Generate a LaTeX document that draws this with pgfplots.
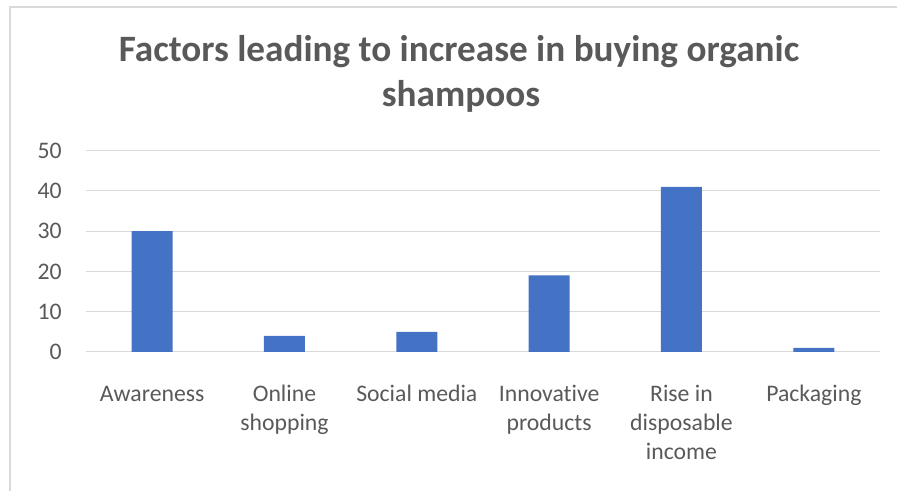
\documentclass[border=0pt]{standalone}
\usepackage{fontspec}
\setmainfont[Ligatures=NoCommon]{Carlito}
\usepackage{pgfplots}
\pgfplotsset{compat=1.18}
\definecolor{barblue}{HTML}{4472C4}
\definecolor{txtgray}{HTML}{595959}
\definecolor{gridgray}{HTML}{D9D9D9}
% category label: lines centred, baseline on the first line
\newcommand{\lbl}[1]{\begin{tabular}[t]{@{}c@{}}#1\end{tabular}}

\begin{document}
\begin{tikzpicture}[x=0.75pt,y=0.75pt]
% page = 897 x 491 px, 1 px = 0.75pt
\path[use as bounding box] (0,0) rectangle (897,491);
% chart area frame (only left and top edges visible)
\draw[gridgray, line width=1.5pt] (10,-5) -- (10,484) -- (905,484);

% title
\node[anchor=base, text=txtgray, font=\fontsize{27.9pt}{34pt}\selectfont\bfseries]
  at (459,429) {Factors leading to increase in buying organic};
\node[anchor=base, text=txtgray, font=\fontsize{27.9pt}{34pt}\selectfont\bfseries]
  at (461,384) {shampoos};

\begin{axis}[
  at={(64.5pt,104.25pt)}, anchor=south west,
  scale only axis, width=595.5pt, height=151pt,
  ybar, bar width=30.75pt,
  xmin=-0.5, xmax=5.5, ymin=0, ymax=50,
  ytick={0,10,...,50},
  xtick=data,
  xticklabels={{\lbl{Awareness}}, {\lbl{Online\\shopping}}, {\lbl{Social media}},
    {\lbl{Innovative\\products}}, {\lbl{Rise in\\disposable\\income}}, {\lbl{Packaging}}},
  axis line style={draw=none},
  tick style={draw=none},
  ymajorgrids,
  major grid style={gridgray, line width=0.75pt},
  /pgf/number format/assume math mode=true,
  ticklabel style={text=txtgray, font=\fontsize{17.8pt}{21.75pt}\selectfont},
  yticklabel style={inner sep=0pt, anchor=east, xshift=-18pt},
  xticklabel style={inner sep=0pt, anchor=base, yshift=-33pt},
]
\addplot[fill=barblue, draw=none] coordinates {
  (0,30) (1,4) (2,5) (3,19) (4,41) (5,1)
};
\end{axis}
\end{tikzpicture}
\end{document}
